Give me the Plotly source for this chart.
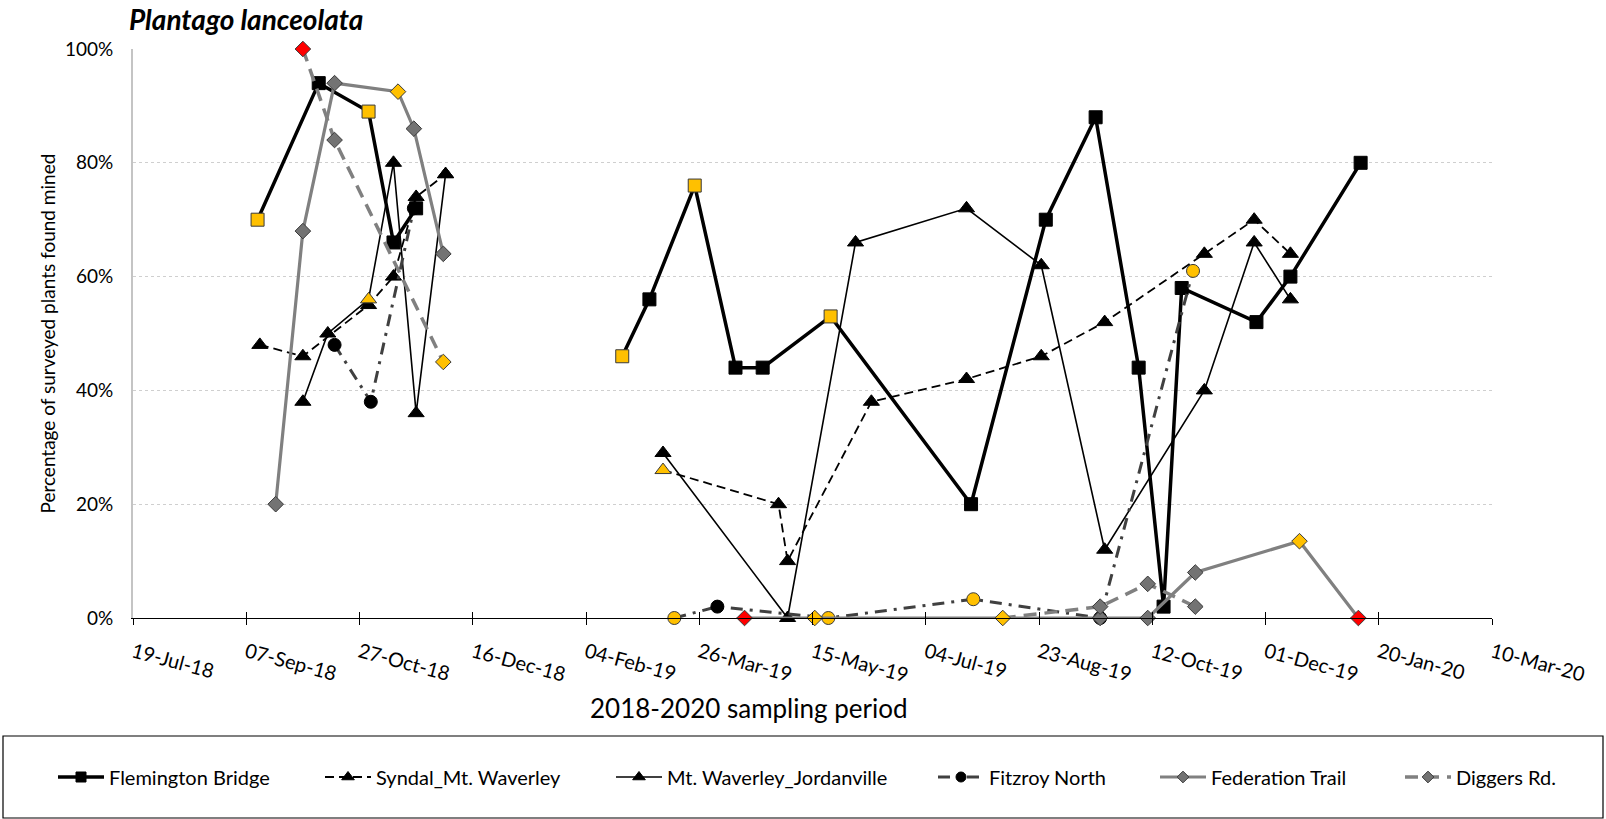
import plotly.graph_objects as go

# ---- sampling data (proportion of plants found mined) ----
flem_dates = ['2018-09-12', '2018-10-09', '2018-10-31', '2018-11-11', '2018-11-21', None,
              '2019-02-20', '2019-03-04', '2019-03-24', '2019-04-11', '2019-04-23', '2019-05-23',
              '2019-07-24', '2019-08-26', '2019-09-17', '2019-10-06', '2019-10-17', '2019-10-25',
              '2019-11-27', '2019-12-12', '2020-01-12']
flem_vals = [0.70, 0.94, 0.89, 0.66, 0.72, None,
             0.46, 0.56, 0.76, 0.44, 0.44, 0.53,
             0.20, 0.70, 0.88, 0.44, 0.02, 0.58,
             0.52, 0.60, 0.80]

syndal_dates = ['2018-09-13', '2018-10-02', '2018-10-31', '2018-11-11', '2018-11-21', '2018-12-04', None,
                '2019-03-10', '2019-04-30', '2019-05-04', '2019-06-10', '2019-07-22', '2019-08-24',
                '2019-09-21', '2019-11-04', '2019-11-26', '2019-12-12']
syndal_vals = [0.48, 0.46, 0.55, 0.60, 0.74, 0.78, None,
               0.26, 0.20, 0.10, 0.38, 0.42, 0.46,
               0.52, 0.64, 0.70, 0.64]

jordan_dates = ['2018-10-02', '2018-10-13', '2018-10-31', '2018-11-11', '2018-11-21', '2018-12-04', None,
                '2019-03-10', '2019-05-04', '2019-06-03', '2019-07-22', '2019-08-24', '2019-09-21',
                '2019-11-04', '2019-11-26', '2019-12-12']
jordan_vals = [0.38, 0.50, 0.56, 0.80, 0.36, 0.78, None,
               0.29, 0.00, 0.66, 0.72, 0.62, 0.12,
               0.40, 0.66, 0.56]

fitzroy_dates = ['2018-10-16', '2018-11-01', '2018-11-20', None,
                 '2019-03-15', '2019-04-03', '2019-05-22', '2019-07-25', '2019-09-19', '2019-10-30']
fitzroy_vals = [0.48, 0.38, 0.72, None,
                0.00, 0.02, 0.00, 0.033, 0.00, 0.61]

fed_dates = ['2018-09-20', '2018-10-02', '2018-10-16', '2018-11-13', '2018-11-20', '2018-12-03', None,
             '2019-04-15', '2019-05-16', '2019-09-19', '2019-10-10', '2019-10-31', '2019-12-16', '2020-01-11']
fed_vals = [0.20, 0.68, 0.94, 0.925, 0.86, 0.64, None,
            0.00, 0.00, 0.00, 0.00, 0.08, 0.135, 0.00]

diggers_dates = ['2018-10-02', '2018-10-16', '2018-12-03', None,
                 '2019-08-07', '2019-09-19', '2019-10-10', '2019-10-31']
diggers_vals = [1.00, 0.84, 0.45, None,
                0.00, 0.02, 0.06, 0.02]

# per-point marker fill codes: k = black, g = grey, y = yellow, r = red
flem_marks = ['y', 'k', 'y', 'k', 'k', 'k', 'y', 'k', 'y', 'k', 'k', 'y', 'k', 'k', 'k', 'k', 'k', 'k', 'k', 'k', 'k']
syndal_marks = ['k', 'k', 'k', 'k', 'k', 'k', 'k', 'y', 'k', 'k', 'k', 'k', 'k', 'k', 'k', 'k', 'k']
jordan_marks = ['k', 'k', 'y', 'k', 'k', 'k', 'k', 'k', 'k', 'k', 'k', 'k', 'k', 'k', 'k', 'k']
fitzroy_marks = ['k', 'k', 'k', 'k', 'y', 'k', 'y', 'y', 'k', 'y']
fed_marks = ['g', 'g', 'g', 'y', 'g', 'g', 'g', 'r', 'y', 'g', 'g', 'g', 'y', 'r']
diggers_marks = ['r', 'g', 'y', 'g', 'y', 'g', 'g', 'g']

x_ticks_start = '2018-07-19'
x_range = ['2018-07-19', '2020-03-10']
y_ticks = [0, 0.2, 0.4, 0.6, 0.8, 1.0]

FILL = {'k': '#000000', 'g': '#737373', 'y': '#FFC000', 'r': '#FF0000'}
EDGE = {'k': '#000000', 'g': '#3a3a3a', 'y': '#3a3a3a', 'r': '#3a3a3a'}
FONT = 'Lato, Carlito, Calibri, sans-serif'

W, H = 1606, 819
L, R, T, B = 133, 114, 49, 201
PW, PH = W - L - R, H - T - B


def px_x(p):
    return (p - L) / PW


def px_y(p):
    return (H - B - p) / PH


series = [
    dict(name='Flemington Bridge', x=flem_dates, y=flem_vals, marks=flem_marks,
         line=dict(color='#000000', width=3.5), symbol='square', size=13, text_left=109),
    dict(name='Syndal_Mt. Waverley', x=syndal_dates, y=syndal_vals, marks=syndal_marks,
         line=dict(color='#000000', width=1.8, dash='9px,5px'), symbol='triangle-up', size=14, text_left=376),
    dict(name='Mt. Waverley_Jordanville', x=jordan_dates, y=jordan_vals, marks=jordan_marks,
         line=dict(color='#000000', width=1.6), symbol='triangle-up', size=14, text_left=667),
    dict(name='Fitzroy North', x=fitzroy_dates, y=fitzroy_vals, marks=fitzroy_marks,
         line=dict(color='#404040', width=3, dash='12px,7px,3px,7px'), symbol='circle', size=13, text_left=989),
    dict(name='Federation Trail', x=fed_dates, y=fed_vals, marks=fed_marks,
         line=dict(color='#808080', width=3.2), symbol='diamond', size=12, text_left=1211),
    dict(name='Diggers Rd.', x=diggers_dates, y=diggers_vals, marks=diggers_marks,
         line=dict(color='#808080', width=3.5, dash='13px,8px'), symbol='diamond', size=12, text_left=1456),
]

fig = go.Figure()

for s in series:
    fig.add_trace(go.Scatter(
        x=s['x'], y=s['y'], mode='lines+markers', name=s['name'],
        line=s['line'], connectgaps=False, cliponaxis=False, showlegend=False,
        marker=dict(symbol=s['symbol'], size=s['size'],
                    color=[FILL[m] for m in s['marks']],
                    line=dict(color=[EDGE[m] for m in s['marks']], width=1)),
    ))

# legend keys, one legend box per series so each can sit at its own spot
KEY_W = 46
for i, s in enumerate(series):
    lg = 'legend' if i == 0 else f'legend{i + 1}'
    key_fill = '#000000' if s['line']['color'] == '#000000' or s['symbol'] == 'circle' else '#737373'
    fig.add_trace(go.Scatter(
        x=[None], y=[None], mode='lines+markers', name=s['name'], legend=lg,
        line=s['line'],
        marker=dict(symbol=s['symbol'], size=s['size'] - 3, color=key_fill,
                    line=dict(color='#3a3a3a' if key_fill != '#000000' else '#000000', width=1)),
    ))

# second x axis overlay supplies the upper half of the crossing tick marks
fig.add_trace(go.Scatter(x=[None], y=[None], xaxis='x2', showlegend=False, hoverinfo='skip'))

legend_layout = {}
for i, s in enumerate(series):
    key = 'legend' if i == 0 else f'legend{i + 1}'
    legend_layout[key] = dict(
        x=px_x(s['text_left'] - KEY_W - 10), y=px_y(777), xanchor='left', yanchor='middle',
        orientation='h', bgcolor='rgba(0,0,0,0)', borderwidth=0, itemwidth=KEY_W,
        font=dict(family=FONT, size=20, color='#000000'),
    )

fig.update_layout(
    width=W, height=H, autosize=False,
    margin=dict(l=L, r=R, t=T, b=B, pad=0),
    plot_bgcolor='white', paper_bgcolor='white',
    font=dict(family=FONT, size=18, color='#000000'),
    xaxis=dict(
        type='date', range=x_range, tickmode='linear', tick0=x_ticks_start,
        dtick=50 * 86400000, tickformat='%d-%b-%y', tickangle=15,
        ticks='outside', ticklen=6, tickwidth=1.3, tickcolor='#000000',
        showline=True, linecolor='#000000', linewidth=1.3,
        showgrid=False, zeroline=False, ticklabelstandoff=8,
        tickfont=dict(family=FONT, size=20, color='#000000'),
    ),
    xaxis2=dict(
        type='date', range=x_range, tickmode='linear', tick0=x_ticks_start,
        dtick=50 * 86400000, overlaying='x', side='bottom', anchor='y',
        ticks='inside', ticklen=6, tickwidth=1.3, tickcolor='#000000',
        showticklabels=False, showline=False, showgrid=False, zeroline=False,
    ),
    yaxis=dict(
        range=[0, 1], tickmode='array', tickvals=y_ticks, tickformat='.0%',
        showgrid=True, gridcolor='#cfcfcf', gridwidth=1, griddash='dot',
        showline=True, linecolor='#c4c4c4', linewidth=2,
        zeroline=False, ticks='', ticklabelstandoff=14,
        tickfont=dict(family=FONT, size=19, color='#000000'),
    ),
    **legend_layout,
    shapes=[dict(type='rect', xref='paper', yref='paper',
                 x0=px_x(3), x1=px_x(1603), y0=px_y(818), y1=px_y(736),
                 line=dict(color='#000000', width=1.2), fillcolor='rgba(0,0,0,0)', layer='below')],
    annotations=[
        dict(text='<b><i>Plantago lanceolata</i></b>', xref='paper', yref='paper',
             x=px_x(127), y=px_y(19), xanchor='left', yanchor='middle', showarrow=False,
             font=dict(family=FONT, size=28, color='#000000')),
        dict(text='Percentage of surveyed plants found mined', xref='paper', yref='paper',
             x=px_x(47), y=0.5, xanchor='center', yanchor='middle', textangle=-90, showarrow=False,
             font=dict(family=FONT, size=19, color='#000000')),
        dict(text='2018-2020 sampling period', xref='paper', yref='paper',
             x=px_x(748), y=px_y(708), xanchor='center', yanchor='middle', showarrow=False,
             font=dict(family=FONT, size=26, color='#000000')),
    ],
)

fig.write_html('out.html')
